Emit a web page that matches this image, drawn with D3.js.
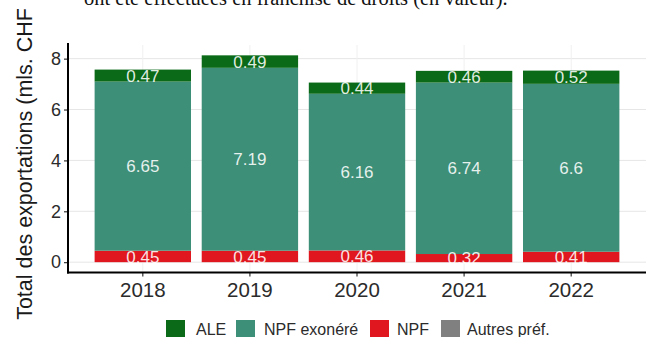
<!DOCTYPE html>
<html>
<head>
<meta charset="utf-8">
<script src="https://cdn.jsdelivr.net/npm/d3@7"></script>
<style>
  html, body { margin: 0; padding: 0; background: #fff; }
  svg { display: block; }
</style>
</head>
<body>
<svg id="chart" width="646" height="337"></svg>
<script>
// ---- data ----
const years = ["2018", "2019", "2020", "2021", "2022"];
const seriesNames = ["Autres préf.", "NPF", "NPF exonéré", "ALE"]; // stack order bottom -> top
const autresPref = [0, 0, 0, 0, 0];
const npf = [0.45, 0.45, 0.46, 0.32, 0.41];
const npfExonere = [6.65, 7.19, 6.16, 6.74, 6.6];
const ale = [0.47, 0.49, 0.44, 0.46, 0.52];
const yTicks = [0, 2, 4, 6, 8];
const legendOrder = ["ALE", "NPF exonéré", "NPF", "Autres préf."];
const colors = { "ALE": "#0a6a18", "NPF exonéré": "#3e8f77", "NPF": "#e0171f", "Autres préf.": "#808080" };
const yTitle = "Total des exportations (mls. CHF";
const topText = "ont été effectuées en franchise de droits (en valeur).";

const rows = years.map((y, i) => ({
  year: y,
  "Autres préf.": autresPref[i],
  "NPF": npf[i],
  "NPF exonéré": npfExonere[i],
  "ALE": ale[i]
}));

const svg = d3.select("#chart");
const font = "'Liberation Sans', Arial, sans-serif";

// ---- scales ----
const left = 68, right = 646;
const maxTotal = d3.max(rows, r => seriesNames.reduce((s, k) => s + r[k], 0));
const pad = maxTotal * 0.05;
const y = d3.scaleLinear().domain([-pad, maxTotal + pad]).range([272.5, 45]);
const x = d3.scaleBand().domain(years).range([left, right]).paddingInner(0.1).paddingOuter(0.2485);

// ---- top (cut-off) document text ----
svg.append("text")
  .attr("x", 84).attr("y", 5)
  .attr("font-family", "'Liberation Serif', 'DejaVu Serif', serif")
  .attr("font-size", 20.5)
  .attr("fill", "#111")
  .text(topText);

// ---- gridlines ----
const grid = svg.append("g");
grid.selectAll("line.h").data(yTicks).join("line")
  .attr("x1", left).attr("x2", right)
  .attr("y1", d => y(d)).attr("y2", d => y(d))
  .attr("stroke", "#e6e6e6").attr("stroke-width", 1);
grid.selectAll("line.v").data(years).join("line")
  .attr("y1", y(-pad)).attr("y2", y(maxTotal + pad))
  .attr("x1", d => x(d) + x.bandwidth() / 2).attr("x2", d => x(d) + x.bandwidth() / 2)
  .attr("stroke", "#f0f0f0").attr("stroke-width", 1);

// ---- stacked bars ----
const stack = d3.stack().keys(seriesNames)(rows);
const bars = svg.append("g");
stack.forEach(layer => {
  bars.selectAll(null).data(layer).join("rect")
    .attr("x", d => x(d.data.year))
    .attr("width", x.bandwidth())
    .attr("y", d => y(d[1]))
    .attr("height", d => Math.max(0, y(d[0]) - y(d[1])))
    .attr("fill", colors[layer.key]);
});

// ---- value labels ----
const labels = svg.append("g")
  .attr("font-family", font).attr("font-size", 17)
  .attr("fill", "#ffffff").attr("fill-opacity", 0.88)
  .attr("text-anchor", "middle");
stack.forEach(layer => {
  labels.selectAll(null).data(layer.filter(d => d[1] - d[0] > 0)).join("text")
    .attr("x", d => x(d.data.year) + x.bandwidth() / 2)
    .attr("y", d => y((d[0] + d[1]) / 2))
    .attr("dy", "0.36em")
    .text(d => String(+(d[1] - d[0]).toFixed(2)));
});

// ---- axes ----
const yAxis = d3.axisLeft(y).tickValues(yTicks).tickSize(4).tickPadding(3).tickFormat(d3.format("d"));
const gy = svg.append("g").attr("transform", `translate(${left},0)`).call(yAxis);
gy.select(".domain").remove();
gy.selectAll(".tick line").attr("stroke", "#333").attr("stroke-width", 1.2);
gy.selectAll(".tick text").attr("font-family", font).attr("font-size", 18).attr("fill", "#2b2b2b");

const xAxis = d3.axisBottom(x).tickSize(4).tickPadding(6);
const gx = svg.append("g").attr("transform", `translate(0,${y(-pad)})`).call(xAxis);
gx.select(".domain").remove();
gx.selectAll(".tick line").attr("stroke", "#333").attr("stroke-width", 1.2);
gx.selectAll(".tick text").attr("font-family", font).attr("font-size", 20.5).attr("fill", "#2b2b2b");

// axis lines
svg.append("line")
  .attr("x1", left).attr("x2", left)
  .attr("y1", y(maxTotal + pad) - 2).attr("y2", y(-pad) + 1)
  .attr("stroke", "#000").attr("stroke-width", 2);
svg.append("line")
  .attr("x1", left - 1).attr("x2", right)
  .attr("y1", y(-pad)).attr("y2", y(-pad))
  .attr("stroke", "#000").attr("stroke-width", 2);

// ---- y title ----
svg.append("text")
  .attr("transform", "translate(32,8) rotate(-90)")
  .attr("text-anchor", "end")
  .attr("font-family", font).attr("font-size", 21.5)
  .attr("fill", "#1a1a1a")
  .text(yTitle);

// ---- legend ----
const legendItems = [
  { key: "ALE", kx: 166, tx: 196 },
  { key: "NPF exonéré", kx: 236, tx: 264 },
  { key: "NPF", kx: 370, tx: 397 },
  { key: "Autres préf.", kx: 441, tx: 467 }
];
const lg = svg.append("g");
lg.selectAll("rect").data(legendItems).join("rect")
  .attr("x", d => d.kx).attr("y", 320)
  .attr("width", 19).attr("height", 19)
  .attr("fill", d => colors[d.key]);
lg.selectAll("text").data(legendItems).join("text")
  .attr("x", d => d.tx).attr("y", 329)
  .attr("dy", "0.36em")
  .attr("font-family", font).attr("font-size", 16)
  .attr("fill", "#2b2b2b")
  .text(d => d.key);
</script>
</body>
</html>
